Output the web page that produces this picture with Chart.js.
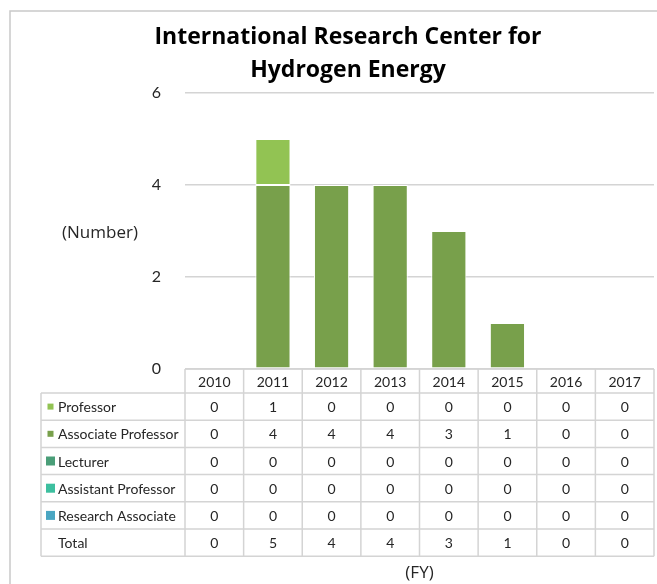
<!DOCTYPE html>
<html lang="en">
<head>
    <meta charset="UTF-8">
    <title>International Research Center for Hydrogen Energy</title>
    <script src="https://cdn.jsdelivr.net/npm/chart.js"></script>
    <style>
        html, body { margin: 0; padding: 0; background: #fff; }
        #wrap { width: 657px; height: 584px; position: relative; }
    </style>
</head>
<body>
    <div id="wrap"><canvas id="staffChart"></canvas></div>

    <script>
        // fiscal years and head counts per position
        const years = ['2010', '2011', '2012', '2013', '2014', '2015', '2016', '2017'];
        const professor = [0, 1, 0, 0, 0, 0, 0, 0];
        const associateProfessor = [0, 4, 4, 4, 3, 1, 0, 0];
        const lecturer = [0, 0, 0, 0, 0, 0, 0, 0];
        const assistantProfessor = [0, 0, 0, 0, 0, 0, 0, 0];
        const researchAssociate = [0, 0, 0, 0, 0, 0, 0, 0];
        const totals = [0, 5, 4, 4, 3, 1, 0, 0];
        const yTicks = [0, 2, 4, 6];

        const FONT = 'Lato, "Open Sans", sans-serif';
        const TITLE_FONT = '"Open Sans", Lato, sans-serif';

        // table rows, top to bottom
        const rows = [
            { label: 'Professor', data: professor, color: '#92c353', key: 6 },
            { label: 'Associate Professor', data: associateProfessor, color: '#78a04b', key: 6 },
            { label: 'Lecturer', data: lecturer, color: '#4a9e78', key: 9 },
            { label: 'Assistant Professor', data: assistantProfessor, color: '#3dbf9f', key: 9 },
            { label: 'Research Associate', data: researchAssociate, color: '#4aa6c2', key: 9 },
        ];

        // stack from the bottom up: zero series first, professor on top
        const stackOrder = [4, 3, 2, 1, 0];
        const datasets = stackOrder.map(i => ({
            label: rows[i].label,
            data: rows[i].data,
            backgroundColor: rows[i].color,
            borderColor: '#ffffff',
            borderWidth: c => (c.raw ? 1 : 0),
            borderSkipped: false,
            categoryPercentage: 1,
            barPercentage: 0.6,
        }));

        const frameAndText = {
            id: 'frameAndText',
            beforeDraw(chart) {
                const c = chart.ctx;
                c.save();
                c.strokeStyle = '#c9c9c9';
                c.lineWidth = 1.5;
                c.strokeRect(10, 11, 700, 700);
                c.restore();
            },
            afterDraw(chart) {
                const c = chart.ctx;
                const area = chart.chartArea;
                const n = years.length;
                const colW = (area.right - area.left) / n;
                const top = area.bottom;
                const headH = 24;
                const rowH = 27.2;
                const labelLeft = 41;
                const allRows = rows.concat([{ label: 'Total', data: totals }]);
                const tableBottom = top + headH + rowH * allRows.length;

                c.save();
                // title
                c.fillStyle = '#000';
                c.font = 'bold 23px ' + TITLE_FONT;
                c.textAlign = 'center';
                c.textBaseline = 'middle';
                c.fillText('International Research Center for', 348, 37);
                c.fillText('Hydrogen Energy', 348, 70);

                // axis captions
                c.fillStyle = '#262626';
                c.font = '17px ' + TITLE_FONT;
                c.fillText('(Number)', 100, 233);
                c.fillText('(FY)', (area.left + area.right) / 2, 573);

                // data table grid
                c.strokeStyle = '#d4d4d4';
                c.lineWidth = 1.5;
                c.beginPath();
                c.moveTo(area.left, top);
                c.lineTo(area.right, top);
                for (let r = 0; r <= allRows.length; r++) {
                    const y = top + headH + r * rowH;
                    c.moveTo(labelLeft, y);
                    c.lineTo(area.right, y);
                }
                for (let k = 0; k <= n; k++) {
                    const x = area.left + k * colW;
                    c.moveTo(x, top);
                    c.lineTo(x, tableBottom);
                }
                c.moveTo(labelLeft, top + headH);
                c.lineTo(labelLeft, tableBottom);
                c.stroke();

                // header years
                c.fillStyle = '#262626';
                c.font = '14px ' + FONT;
                c.textAlign = 'center';
                years.forEach((yr, k) => {
                    c.fillText(yr, area.left + (k + 0.5) * colW, top + headH / 2 + 1);
                });

                // rows
                allRows.forEach((row, r) => {
                    const yMid = top + headH + (r + 0.5) * rowH + 1;
                    if (row.color) {
                        const s = row.key;
                        c.fillStyle = row.color;
                        c.fillRect(50.5 - s / 2, yMid - s / 2 - 1, s, s);
                    }
                    c.fillStyle = '#262626';
                    c.textAlign = 'left';
                    c.fillText(row.label, 58, yMid);
                    c.textAlign = 'center';
                    row.data.forEach((v, k) => {
                        c.fillText(String(v), area.left + (k + 0.5) * colW, yMid);
                    });
                });
                c.restore();
            }
        };

        new Chart(document.getElementById('staffChart'), {
            type: 'bar',
            data: { labels: years, datasets: datasets },
            options: {
                responsive: true,
                maintainAspectRatio: false,
                animation: false,
                layout: { padding: { top: 93, left: 125, right: 3, bottom: 215 } },
                plugins: {
                    legend: { display: false },
                    title: { display: false },
                    tooltip: { enabled: false },
                },
                scales: {
                    x: { stacked: true, display: false },
                    y: {
                        stacked: true,
                        min: 0,
                        max: 6,
                        afterBuildTicks: s => { s.ticks = yTicks.map(v => ({ value: v })); },
                        afterFit: s => { s.width = 60; },
                        border: { display: false },
                        grid: { color: '#d4d4d4', lineWidth: 1.5, drawTicks: false },
                        ticks: {
                            padding: 24,
                            color: '#262626',
                            font: { family: FONT, size: 16 },
                        },
                    },
                },
            },
            plugins: [frameAndText],
        });
    </script>
</body>
</html>
